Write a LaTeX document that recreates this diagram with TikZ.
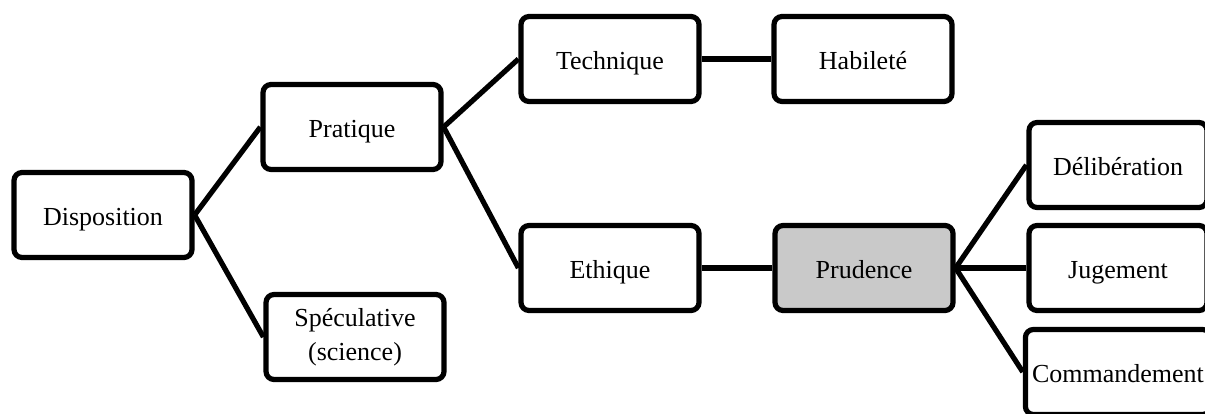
\documentclass[tikz,border=0pt]{standalone}
\usepackage{fontspec}
\setmainfont{Liberation Serif}
\definecolor{prudgray}{HTML}{C9C9C9}
\tikzset{
	box/.style={draw, line width=2.6pt, rounded corners=4pt, minimum width=89pt,
		minimum height=42.5pt, align=center, text height=11.5pt, text depth=1pt,
		font=\fontsize{13}{17}\selectfont},
	link/.style={line width=2.6pt}
}
\begin{document}
\begin{tikzpicture}[x=50pt, y=50pt]
		\useasboundingbox (0, 0) rectangle (12.05, 4.13);
		\clip (0, 0) rectangle (12.05, 4.13);

		\node[box] (disp) at(1.03, 1.98){Disposition};
		\node[box] (prat) at(3.52, 2.86){Pratique};
		\node[box, text height=, text depth=] (spec) at(3.55, 0.76){Spéculative\\(science)};
		\node[box] (tech) at(6.10, 3.54){Technique};
		\node[box] (hab) at(8.63, 3.54){Habileté};
		\node[box] (eth) at(6.10, 1.45){Ethique};
		\node[box, fill=prudgray] (prud) at(8.64, 1.45){Prudence};
		\node[box] (delib) at(11.18, 2.48){Délibération};
		\node[box] (jug) at(11.18, 1.45){Jugement};
		\node[box] (comm) at(11.18, 0.41){Commandement};

		\draw[link](disp.east) to (prat.west);
		\draw[link](disp.east) to (spec.west);
		\draw[link](prat.east) to (tech.west);
		\draw[link](prat.east) to (eth.west);
		\draw[link](tech.east) to (hab.west);
		\draw[link](eth.east) to (prud.west);
		\draw[link](prud.east) to (delib.west);
		\draw[link](prud.east) to (jug.west);
		\draw[link](prud.east) to (comm.west);

	\end{tikzpicture}
\end{document}
